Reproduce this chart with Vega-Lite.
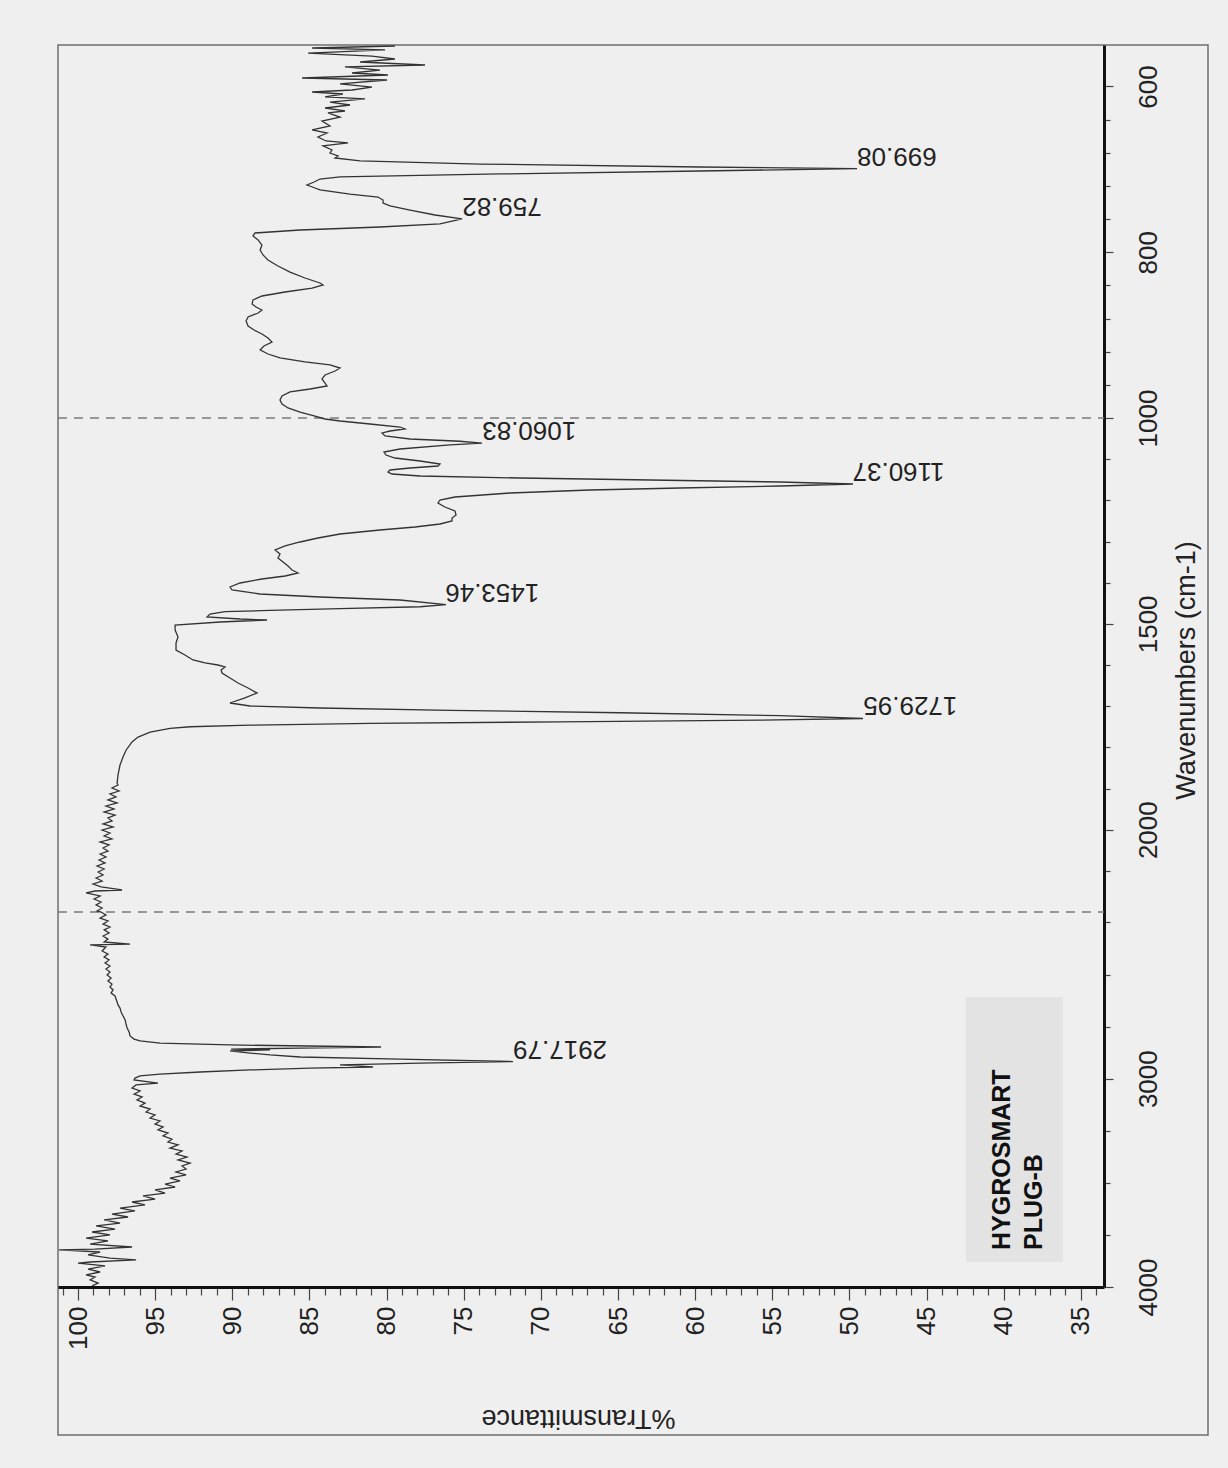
{
  "$schema": "https://vega.github.io/schema/vega-lite/v6.json",
  "width": 1150,
  "height": 1390,
  "autosize": {"type": "none"},
  "padding": {"left": 58, "top": 45, "right": 20, "bottom": 33},
  "background": "#efefef",
  "config": {"view": {"stroke": "#6f6f6f", "strokeWidth": 1.5}, "font": "Liberation Sans"},
  "datasets": {
    "spectrum": [
      {"wn":551.2,"T":79.46},{"wn":553.6,"T":84.83},{"wn":556.0,"T":80.10},{"wn":559.7,"T":85.09},{"wn":563.3,"T":80.95},{"wn":566.9,"T":79.46},{"wn":570.5,"T":81.72},{"wn":574.1,"T":77.51},{"wn":576.5,"T":82.70},{"wn":580.2,"T":80.43},{"wn":583.8,"T":82.24},{"wn":586.2,"T":79.91},{"wn":589.8,"T":85.48},{"wn":592.2,"T":79.97},{"wn":597.0,"T":83.02},{"wn":600.7,"T":80.95},{"wn":604.3,"T":82.24},{"wn":606.7,"T":84.83},{"wn":609.1,"T":82.83},{"wn":612.7,"T":83.99},{"wn":615.1,"T":81.40},{"wn":618.8,"T":83.67},{"wn":622.4,"T":82.37},{"wn":626.0,"T":83.99},{"wn":629.6,"T":82.70},{"wn":632.0,"T":83.80},{"wn":636.9,"T":83.02},{"wn":641.7,"T":84.19},{"wn":647.7,"T":83.67},{"wn":652.5,"T":84.83},{"wn":656.2,"T":83.86},{"wn":661.0,"T":84.45},{"wn":665.8,"T":83.93},{"wn":668.2,"T":82.50},{"wn":671.8,"T":84.12},{"wn":676.7,"T":83.54},{"wn":680.3,"T":83.67},{"wn":683.9,"T":83.15},{"wn":686.3,"T":83.34},{"wn":689.9,"T":81.72},{"wn":693.6,"T":73.95},{"wn":697.2,"T":59.69},{"wn":699.08,"T":49.51},{"wn":702.0,"T":59.69},{"wn":705.6,"T":72.65},{"wn":709.2,"T":83.02},{"wn":711.7,"T":84.32},{"wn":715.3,"T":84.70},{"wn":718.9,"T":85.16},{"wn":722.5,"T":84.64},{"wn":724.9,"T":84.32},{"wn":729.8,"T":82.37},{"wn":733.4,"T":80.56},{"wn":737.0,"T":80.23},{"wn":740.6,"T":80.23},{"wn":744.2,"T":79.78},{"wn":749.1,"T":78.48},{"wn":755.1,"T":76.86},{"wn":759.82,"T":75.11},{"wn":765.9,"T":76.54},{"wn":769.6,"T":80.43},{"wn":773.2,"T":85.61},{"wn":776.8,"T":88.53},{"wn":780.4,"T":88.66},{"wn":785.2,"T":88.33},{"wn":791.3,"T":88.08},{"wn":797.3,"T":88.20},{"wn":803.3,"T":88.01},{"wn":809.4,"T":87.69},{"wn":816.6,"T":87.04},{"wn":823.9,"T":86.26},{"wn":831.1,"T":85.29},{"wn":837.1,"T":84.32},{"wn":839.5,"T":84.12},{"wn":843.2,"T":84.83},{"wn":848.0,"T":86.58},{"wn":852.8,"T":88.08},{"wn":857.6,"T":88.66},{"wn":862.5,"T":88.72},{"wn":866.1,"T":88.46},{"wn":869.7,"T":88.08},{"wn":873.3,"T":88.33},{"wn":878.1,"T":88.98},{"wn":883.0,"T":89.11},{"wn":889.0,"T":88.98},{"wn":893.8,"T":88.59},{"wn":898.6,"T":88.08},{"wn":903.5,"T":87.69},{"wn":908.3,"T":87.43},{"wn":913.1,"T":87.95},{"wn":917.9,"T":88.20},{"wn":922.8,"T":87.69},{"wn":927.6,"T":86.91},{"wn":932.4,"T":85.29},{"wn":936.0,"T":83.67},{"wn":939.7,"T":83.02},{"wn":943.3,"T":83.34},{"wn":948.1,"T":83.99},{"wn":952.9,"T":84.19},{"wn":957.8,"T":83.99},{"wn":961.4,"T":83.86},{"wn":965.0,"T":84.96},{"wn":968.6,"T":86.26},{"wn":973.5,"T":86.78},{"wn":978.3,"T":86.91},{"wn":983.1,"T":86.78},{"wn":987.9,"T":86.39},{"wn":992.8,"T":85.61},{"wn":997.6,"T":84.64},
      {"wn":1002.4,"T":83.99},{"wn":1007.3,"T":83.02},{"wn":1014.6,"T":81.08},{"wn":1021.9,"T":79.13},{"wn":1026.7,"T":78.81},{"wn":1031.6,"T":79.78},{"wn":1036.4,"T":80.30},{"wn":1043.7,"T":80.10},{"wn":1051.0,"T":78.48},{"wn":1056.5,"T":75.24},{"wn":1060.83,"T":73.82},{"wn":1065.5,"T":75.89},{"wn":1075.3,"T":79.13},{"wn":1082.6,"T":80.17},{"wn":1089.9,"T":80.04},{"wn":1097.2,"T":79.46},{"wn":1104.5,"T":77.83},{"wn":1111.7,"T":76.54},{"wn":1116.6,"T":76.67},{"wn":1121.5,"T":78.48},{"wn":1126.3,"T":79.78},{"wn":1131.2,"T":79.91},{"wn":1136.0,"T":79.65},{"wn":1140.9,"T":77.83},{"wn":1145.7,"T":71.35},{"wn":1150.6,"T":62.93},{"wn":1155.5,"T":54.50},{"wn":1160.37,"T":49.77},{"wn":1165.2,"T":54.50},{"wn":1170.0,"T":60.98},{"wn":1174.9,"T":66.82},{"wn":1182.2,"T":72.00},{"wn":1191.9,"T":75.57},{"wn":1199.2,"T":76.54},{"wn":1206.5,"T":76.67},{"wn":1216.2,"T":76.22},{"wn":1225.9,"T":75.57},{"wn":1235.6,"T":75.50},{"wn":1242.9,"T":75.76},{"wn":1250.2,"T":75.76},{"wn":1257.5,"T":76.54},{"wn":1264.8,"T":78.16},{"wn":1272.1,"T":80.43},{"wn":1281.8,"T":83.02},{"wn":1291.5,"T":84.45},{"wn":1301.2,"T":85.61},{"wn":1310.9,"T":86.58},{"wn":1320.6,"T":87.23},{"wn":1330.4,"T":86.91},{"wn":1340.1,"T":87.04},{"wn":1349.8,"T":86.71},{"wn":1359.5,"T":86.39},{"wn":1369.2,"T":86.13},{"wn":1376.5,"T":85.74},{"wn":1383.8,"T":86.58},{"wn":1391.1,"T":88.08},{"wn":1400.8,"T":89.50},{"wn":1410.5,"T":90.15},{"wn":1417.8,"T":90.02},{"wn":1427.5,"T":88.20},{"wn":1434.8,"T":84.32},{"wn":1442.1,"T":79.13},{"wn":1453.46,"T":76.15},{"wn":1458.5,"T":77.83},{"wn":1463.0,"T":83.02},{"wn":1467.5,"T":87.56},{"wn":1470.5,"T":90.47},{"wn":1476.1,"T":91.45},{"wn":1483.4,"T":91.64},{"wn":1488.3,"T":89.50},{"wn":1490.7,"T":87.75},{"wn":1495.6,"T":90.80},{"wn":1502.9,"T":93.71},{"wn":1515.0,"T":93.71},{"wn":1532.0,"T":93.52},{"wn":1546.5,"T":93.65},{"wn":1563.6,"T":93.65},{"wn":1575.7,"T":93.07},{"wn":1587.8,"T":92.55},{"wn":1595.1,"T":91.77},{"wn":1600.0,"T":90.93},{"wn":1604.8,"T":90.47},{"wn":1612.1,"T":90.73},{"wn":1619.4,"T":90.67},{"wn":1631.6,"T":90.15},{"wn":1643.7,"T":89.63},{"wn":1655.9,"T":88.98},{"wn":1668.0,"T":88.40},{"wn":1680.1,"T":89.18},{"wn":1692.3,"T":90.15},{"wn":1699.6,"T":88.85},{"wn":1704.4,"T":84.32},{"wn":1710.0,"T":75.89},{"wn":1716.0,"T":64.87},{"wn":1723.0,"T":54.50},{"wn":1729.95,"T":49.12},{"wn":1734.0,"T":55.80},{"wn":1738.0,"T":68.76},{"wn":1742.0,"T":81.08},{"wn":1746.0,"T":88.85},{"wn":1750.0,"T":92.74},{"wn":1754.0,"T":94.04},{"wn":1763.0,"T":95.33},{"wn":1775.0,"T":96.11},{"wn":1787.0,"T":96.50},{"wn":1807.0,"T":96.89},{"wn":1823.0,"T":97.08},{"wn":1843.0,"T":97.28},{"wn":1867.0,"T":97.41},{"wn":1887.0,"T":97.47},
      {"wn":1891.5,"T":97.41},{"wn":1898.8,"T":97.80},{"wn":1906.1,"T":97.34},{"wn":1913.3,"T":97.93},{"wn":1920.6,"T":97.54},{"wn":1927.9,"T":98.06},{"wn":1935.2,"T":97.47},{"wn":1942.5,"T":98.19},{"wn":1949.8,"T":97.67},{"wn":1957.1,"T":98.31},{"wn":1964.4,"T":97.60},{"wn":1971.6,"T":98.06},{"wn":1978.9,"T":97.80},{"wn":1986.2,"T":98.38},{"wn":1993.5,"T":97.73},{"wn":2000.8,"T":98.44},{"wn":2008.1,"T":97.93},{"wn":2015.4,"T":98.31},{"wn":2022.6,"T":97.80},{"wn":2029.9,"T":98.57},{"wn":2037.2,"T":97.99},{"wn":2044.5,"T":98.38},{"wn":2051.8,"T":98.06},{"wn":2059.1,"T":98.57},{"wn":2066.4,"T":98.19},{"wn":2073.7,"T":98.64},{"wn":2080.9,"T":98.25},{"wn":2088.2,"T":98.77},{"wn":2095.5,"T":98.31},{"wn":2102.8,"T":98.70},{"wn":2110.1,"T":98.38},{"wn":2117.4,"T":98.83},{"wn":2124.7,"T":98.44},{"wn":2132.0,"T":99.03},{"wn":2139.2,"T":98.51},{"wn":2146.5,"T":97.15},{"wn":2149.0,"T":98.90},{"wn":2153.8,"T":99.48},{"wn":2161.1,"T":98.57},{"wn":2168.4,"T":98.96},{"wn":2175.7,"T":98.51},{"wn":2183.0,"T":98.83},{"wn":2190.3,"T":98.44},{"wn":2197.5,"T":98.77},
      {"wn":2200,"T":98.51},{"wn":2214,"T":98.19},{"wn":2229,"T":98.57},{"wn":2243,"T":98.06},{"wn":2258,"T":98.38},{"wn":2272,"T":97.93},{"wn":2286,"T":98.31},{"wn":2301,"T":97.99},{"wn":2315,"T":98.38},{"wn":2330,"T":98.06},{"wn":2344,"T":98.31},{"wn":2354,"T":96.63},{"wn":2358,"T":99.22},{"wn":2368,"T":98.19},{"wn":2387,"T":98.44},{"wn":2402,"T":98.06},{"wn":2416,"T":98.31},{"wn":2430,"T":97.99},{"wn":2445,"T":98.25},{"wn":2459,"T":97.93},{"wn":2474,"T":98.19},{"wn":2488,"T":97.93},{"wn":2502,"T":98.12},{"wn":2517,"T":97.86},{"wn":2531,"T":98.06},{"wn":2546,"T":97.80},{"wn":2560,"T":97.93},{"wn":2574,"T":97.73},{"wn":2589,"T":97.86},{"wn":2603,"T":97.60},{"wn":2618,"T":97.54},{"wn":2632,"T":97.47},{"wn":2646,"T":97.41},{"wn":2661,"T":97.28},{"wn":2680,"T":97.21},{"wn":2699,"T":97.08},{"wn":2718,"T":96.95},{"wn":2738,"T":96.89},{"wn":2757,"T":96.82},{"wn":2776,"T":96.69},{"wn":2795,"T":96.63},{"wn":2810,"T":96.37},{"wn":2819,"T":95.98},{"wn":2829,"T":94.69},{"wn":2838,"T":90.15},{"wn":2848,"T":80.36},{"wn":2853,"T":85.61},{"wn":2858,"T":90.08},{"wn":2862,"T":87.56},{"wn":2867,"T":90.15},{"wn":2877,"T":88.85},{"wn":2886,"T":87.56},{"wn":2896,"T":85.61},{"wn":2906,"T":79.13},{"wn":2917.79,"T":71.81},{"wn":2925,"T":77.83},{"wn":2934,"T":83.02},{"wn":2944,"T":80.88},{"wn":2949,"T":84.96},{"wn":2958,"T":88.85},{"wn":2968,"T":92.09},{"wn":2978,"T":94.69},{"wn":2987,"T":95.98},{"wn":2997,"T":96.31},{"wn":3006,"T":96.37},{"wn":3021,"T":94.82},{"wn":3030,"T":96.24},{"wn":3045,"T":96.50},{"wn":3059,"T":95.98},{"wn":3074,"T":96.37},{"wn":3088,"T":95.85},{"wn":3102,"T":96.18},{"wn":3117,"T":95.66},{"wn":3131,"T":95.98},{"wn":3146,"T":95.33},{"wn":3160,"T":95.59},{"wn":3174,"T":95.01},{"wn":3189,"T":95.33},{"wn":3203,"T":94.69},{"wn":3218,"T":95.01},{"wn":3232,"T":94.49},{"wn":3246,"T":94.82},{"wn":3261,"T":94.17},{"wn":3275,"T":94.49},{"wn":3290,"T":93.91},{"wn":3304,"T":94.17},{"wn":3318,"T":93.52},{"wn":3333,"T":94.04},{"wn":3347,"T":93.26},{"wn":3362,"T":93.65},{"wn":3376,"T":92.94},{"wn":3390,"T":93.52},{"wn":3405,"T":92.74},{"wn":3419,"T":93.26},{"wn":3434,"T":93.00},{"wn":3448,"T":93.65},{"wn":3462,"T":93.00},{"wn":3477,"T":94.04},{"wn":3491,"T":93.39},{"wn":3506,"T":94.36},{"wn":3520,"T":93.71},{"wn":3534,"T":95.01},{"wn":3549,"T":94.36},{"wn":3563,"T":95.79},{"wn":3578,"T":95.01},{"wn":3592,"T":96.50},{"wn":3606,"T":95.66},{"wn":3621,"T":97.28},{"wn":3635,"T":96.31},{"wn":3650,"T":97.80},{"wn":3664,"T":96.76},{"wn":3678,"T":98.31},{"wn":3693,"T":97.28},{"wn":3707,"T":98.83},{"wn":3722,"T":97.60},{"wn":3736,"T":99.09},{"wn":3750,"T":97.93},{"wn":3765,"T":99.48},{"wn":3779,"T":98.06},{"wn":3794,"T":99.22},{"wn":3808,"T":96.50},{"wn":3818,"T":98.90},{"wn":3822,"T":101.23},{"wn":3832,"T":98.57},{"wn":3846,"T":99.35},{"wn":3861,"T":97.93},{"wn":3870,"T":96.24},{"wn":3880,"T":99.22},{"wn":3885,"T":100.00},{"wn":3899,"T":98.25},{"wn":3914,"T":99.35},{"wn":3928,"T":98.57},{"wn":3942,"T":99.48},{"wn":3952,"T":98.90},{"wn":3966,"T":99.22},{"wn":3981,"T":98.70},{"wn":3995,"T":99.09}
    ],
    "peaks": [
      {"wn":699.08,"T":49.5},{"wn":759.82,"T":75.1},{"wn":1060.83,"T":73.8},{"wn":1160.37,"T":49.8},{"wn":1453.46,"T":76.2},{"wn":1729.95,"T":49.1},{"wn":2917.79,"T":71.8}
    ]
  },
  "layer": [
    {
      "data": {"values": [{}]},
      "mark": {"type": "rect", "color": "#e3e3e3"},
      "encoding": {
        "x": {"datum": 42.45, "type": "quantitative"},
        "x2": {"datum": 36.16},
        "y": {"datum": 2608, "type": "quantitative"},
        "y2": {"datum": 3880}
      }
    },
    {
      "data": {"values": [{"wn": 1000}, {"wn": 2200}]},
      "mark": {"type": "rule", "color": "#7a7a7a", "strokeDash": [9, 7], "strokeWidth": 1.5},
      "encoding": {
        "y": {"field": "wn", "type": "quantitative"},
        "x": {"datum": 101.3, "type": "quantitative"},
        "x2": {"datum": 33.5}
      }
    },
    {
      "data": {"name": "spectrum"},
      "mark": {"type": "line", "color": "#333333", "strokeWidth": 1.3},
      "encoding": {
        "x": {
          "field": "T", "type": "quantitative",
          "scale": {"domain": [101.3, 33.5], "range": [0, 1046], "nice": false, "zero": false},
          "axis": {
            "orient": "bottom", "offset": -148, "tickCount": 500,
            "values": [34,35,36,37,38,39,40,41,42,43,44,45,46,47,48,49,50,51,52,53,54,55,56,57,58,59,60,61,62,63,64,65,66,67,68,69,70,71,72,73,74,75,76,77,78,79,80,81,82,83,84,85,86,87,88,89,90,91,92,93,94,95,96,97,98,99,100,101],
            "format": "d",
            "labelExpr": "datum.value % 5 === 0 ? datum.label : ''",
            "tickSize": {"condition": {"test": "datum.value % 5 === 0", "value": 13}, "value": 8},
            "tickColor": "#444", "tickWidth": 1.2,
            "domainColor": "#111", "domainWidth": 3,
            "labelAngle": -90, "labelAlign": "right", "labelBaseline": "middle", "labelPadding": 6,
            "labelFontSize": 26, "labelColor": "#222", "labelFont": "Liberation Sans",
            "labelOverlap": false, "labelFlush": false, "labelBound": false,
            "grid": false,
            "title": "%Transmittance", "titleAngle": 180, "titleX": 520, "titleY": 130,
            "titleAlign": "center", "titleBaseline": "middle",
            "titleFontSize": 27, "titleFontWeight": "normal", "titleColor": "#222", "titleFont": "Liberation Sans"
          }
        },
        "y": {
          "field": "wn", "type": "quantitative",
          "scale": {"domain": [550, 1000, 2200, 4000], "range": [0, 373, 867, 1242], "nice": false, "zero": false},
          "axis": {
            "orient": "right", "offset": -104, "tickCount": 500,
            "values": [600,640,680,720,760,800,840,880,920,960,1000,1100,1200,1300,1400,1500,1600,1700,1800,1900,2000,2100,2250,2500,2750,3000,3250,3500,3750,4000],
            "format": "d",
            "labelExpr": "indexof([600,800,1000,1500,2000,3000,4000], datum.value) >= 0 ? datum.label : ''",
            "tickSize": {"condition": {"test": "indexof([600,800,1000,1500,2000,3000,4000], datum.value) >= 0", "value": 9}, "value": 6},
            "tickColor": "#444", "tickWidth": 1.2,
            "domainColor": "#111", "domainWidth": 3,
            "labelAngle": -90, "labelAlign": "center", "labelBaseline": "top", "labelPadding": 22,
            "labelFontSize": 26, "labelColor": "#222", "labelFont": "Liberation Sans",
            "labelOverlap": false, "labelFlush": false, "labelBound": false,
            "grid": false,
            "title": "Wavenumbers (cm-1)", "titleAngle": -90, "titleX": 82, "titleY": 625,
            "titleAlign": "center", "titleBaseline": "middle",
            "titleFontSize": 27, "titleFontWeight": "normal", "titleColor": "#222", "titleFont": "Liberation Sans"
          }
        },
        "order": {"field": "wn", "type": "quantitative"}
      }
    },
    {
      "data": {"name": "peaks"},
      "mark": {"type": "text", "angle": 180, "align": "right", "baseline": "top", "fontSize": 26, "color": "#222", "font": "Liberation Sans"},
      "encoding": {
        "x": {"field": "T", "type": "quantitative"},
        "y": {"field": "wn", "type": "quantitative"},
        "text": {"field": "wn", "type": "quantitative", "format": ".2f"}
      }
    },
    {
      "data": {"values": [{}]},
      "mark": {"type": "text", "text": ["HYGROSMART", "PLUG-B"], "angle": -90, "align": "left", "baseline": "top", "lineHeight": 32, "fontSize": 25, "fontWeight": "bold", "color": "#111", "font": "Liberation Sans"},
      "encoding": {
        "x": {"datum": 40.89, "type": "quantitative"},
        "y": {"datum": 3822, "type": "quantitative"}
      }
    }
  ]
}
